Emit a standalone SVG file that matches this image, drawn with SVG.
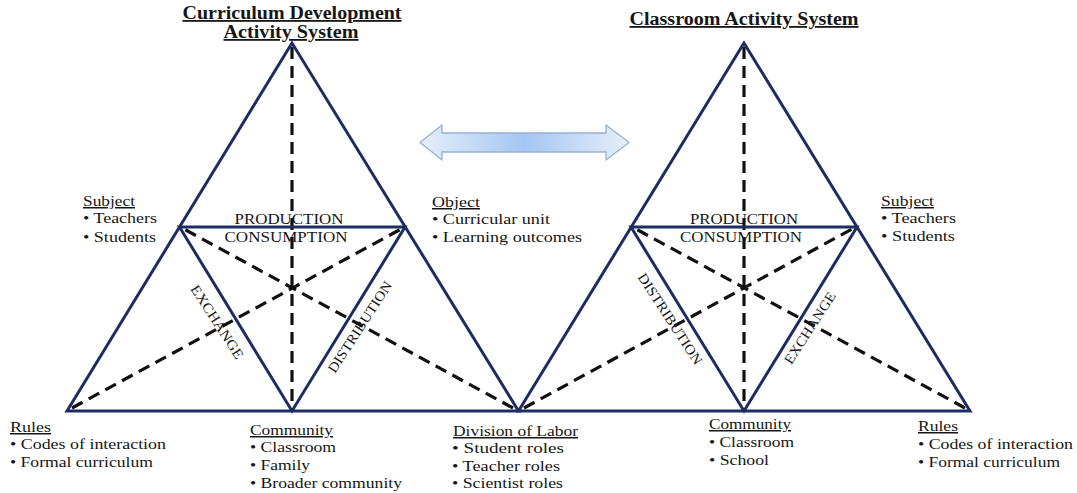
<svg xmlns="http://www.w3.org/2000/svg" width="1077" height="493" viewBox="0 0 1077 493">
  <style>
    text { font-family: "Liberation Serif", "Times New Roman", serif; fill: #161616; }
    .title { font-size: 18px; font-weight: bold; text-decoration: underline; text-anchor: middle; }
    .lbl { font-size: 15px; }
    .head { font-size: 15px; text-decoration: underline; }
    .flow { font-size: 15px; text-anchor: middle; }
    .rot { font-size: 14px; text-anchor: middle; dominant-baseline: central; }
    .edge { fill: none; stroke: #1d2d63; stroke-width: 3; stroke-linejoin: miter; }
    .dash { fill: none; stroke: #111111; stroke-width: 3.2; stroke-dasharray: 12 7; }
  </style>
  <defs>
    <linearGradient id="arrowFill" x1="0" y1="0" x2="1" y2="0">
      <stop offset="0" stop-color="#e6effa"/>
      <stop offset="0.5" stop-color="#a4c6f2"/>
      <stop offset="1" stop-color="#e6effa"/>
    </linearGradient>
  </defs>
  <rect width="1077" height="493" fill="#ffffff"/>

  <!-- Curriculum development activity system -->
  <g id="curriculum-system">
    <text class="title" x="292" y="19" textLength="219" lengthAdjust="spacingAndGlyphs">Curriculum Development</text>
    <text class="title" x="291" y="38" textLength="135" lengthAdjust="spacingAndGlyphs">Activity System</text>
    <g class="dashes">
      <line class="dash" x1="292" y1="47" x2="292" y2="408"/>
      <line class="dash" x1="72" y1="408" x2="401" y2="229"/>
      <line class="dash" x1="513" y1="408" x2="184" y2="229"/>
    </g>
    <polygon class="edge" points="292,43 67,411 518.5,411"/>
    <polygon class="edge" points="179.5,227 405,227 292,411"/>
    <text class="flow" x="289" y="224" textLength="109" lengthAdjust="spacingAndGlyphs">PRODUCTION</text>
    <text class="flow" x="286" y="242" textLength="123" lengthAdjust="spacingAndGlyphs">CONSUMPTION</text>
    <text class="rot" transform="translate(217,322) rotate(57)" textLength="85" lengthAdjust="spacingAndGlyphs">EXCHANGE</text>
    <text class="rot" transform="translate(360,327) rotate(-57)" textLength="106" lengthAdjust="spacingAndGlyphs">DISTRIBUTION</text>
  </g>

  <g id="cd-subject">
    <text class="head" x="83" y="206" textLength="52" lengthAdjust="spacingAndGlyphs">Subject</text>
    <text class="lbl" x="83" y="223" textLength="74" lengthAdjust="spacingAndGlyphs">• Teachers</text>
    <text class="lbl" x="83" y="242" textLength="73" lengthAdjust="spacingAndGlyphs">• Students</text>
  </g>
  <g id="cd-object">
    <text class="head" x="432" y="207" textLength="48" lengthAdjust="spacingAndGlyphs">Object</text>
    <text class="lbl" x="432" y="224" textLength="118" lengthAdjust="spacingAndGlyphs">• Curricular unit</text>
    <text class="lbl" x="432" y="242" textLength="150" lengthAdjust="spacingAndGlyphs">• Learning outcomes</text>
  </g>
  <g id="cd-rules">
    <text class="head" x="10" y="432" textLength="41" lengthAdjust="spacingAndGlyphs">Rules</text>
    <text class="lbl" x="10" y="449" textLength="156" lengthAdjust="spacingAndGlyphs">• Codes of interaction</text>
    <text class="lbl" x="10" y="467" textLength="143" lengthAdjust="spacingAndGlyphs">• Formal  curriculum</text>
  </g>
  <g id="cd-community">
    <text class="head" x="250" y="435" textLength="83" lengthAdjust="spacingAndGlyphs">Community</text>
    <text class="lbl" x="250" y="452" textLength="86" lengthAdjust="spacingAndGlyphs">• Classroom</text>
    <text class="lbl" x="250" y="470" textLength="60" lengthAdjust="spacingAndGlyphs">• Family</text>
    <text class="lbl" x="250" y="488" textLength="152" lengthAdjust="spacingAndGlyphs">• Broader community</text>
  </g>
  <g id="division-of-labor">
    <text class="head" x="453" y="436" textLength="125" lengthAdjust="spacingAndGlyphs">Division of Labor</text>
    <text class="lbl" x="452" y="453" textLength="112" lengthAdjust="spacingAndGlyphs">• Student roles</text>
    <text class="lbl" x="452" y="471" textLength="108" lengthAdjust="spacingAndGlyphs">• Teacher roles</text>
    <text class="lbl" x="452" y="488" textLength="111" lengthAdjust="spacingAndGlyphs">• Scientist roles</text>
  </g>

  <!-- Classroom activity system -->
  <g id="classroom-system">
    <text class="title" x="744" y="25" textLength="229" lengthAdjust="spacingAndGlyphs">Classroom Activity System</text>
    <g class="dashes">
      <line class="dash" x1="744" y1="47" x2="744" y2="408"/>
      <line class="dash" x1="524" y1="408" x2="852" y2="229"/>
      <line class="dash" x1="965" y1="408" x2="636" y2="229"/>
    </g>
    <polygon class="edge" points="744,43 518.5,411 970,411"/>
    <polygon class="edge" points="631,227 857,227 744,411"/>
    <text class="flow" x="744" y="224" textLength="108" lengthAdjust="spacingAndGlyphs">PRODUCTION</text>
    <text class="flow" x="741" y="242" textLength="122" lengthAdjust="spacingAndGlyphs">CONSUMPTION</text>
    <text class="rot" transform="translate(670,319) rotate(57)" textLength="106" lengthAdjust="spacingAndGlyphs">DISTRIBUTION</text>
    <text class="rot" transform="translate(810,328) rotate(-57)" textLength="83" lengthAdjust="spacingAndGlyphs">EXCHANGE</text>
  </g>

  <g id="cr-subject">
    <text class="head" x="881" y="206" textLength="53" lengthAdjust="spacingAndGlyphs">Subject</text>
    <text class="lbl" x="881" y="223" textLength="75" lengthAdjust="spacingAndGlyphs">• Teachers</text>
    <text class="lbl" x="881" y="241" textLength="74" lengthAdjust="spacingAndGlyphs">• Students</text>
  </g>
  <g id="cr-community">
    <text class="head" x="709" y="429" textLength="82" lengthAdjust="spacingAndGlyphs">Community</text>
    <text class="lbl" x="709" y="447" textLength="85" lengthAdjust="spacingAndGlyphs">• Classroom</text>
    <text class="lbl" x="709" y="465" textLength="60" lengthAdjust="spacingAndGlyphs">• School</text>
  </g>
  <g id="cr-rules">
    <text class="head" x="918" y="431" textLength="40" lengthAdjust="spacingAndGlyphs">Rules</text>
    <text class="lbl" x="918" y="449" textLength="155" lengthAdjust="spacingAndGlyphs">• Codes of interaction</text>
    <text class="lbl" x="918" y="467" textLength="142" lengthAdjust="spacingAndGlyphs">• Formal  curriculum</text>
  </g>

  <!-- Connector between the two systems -->
  <g id="connectors">
    <polygon points="420,142.5 442,125 442,133 606,133 606,125 629,142.5 606,160 606,152 442,152 442,160"
             fill="url(#arrowFill)" stroke="#98b1cf" stroke-width="1.3" stroke-linejoin="round"/>
  </g>
</svg>
